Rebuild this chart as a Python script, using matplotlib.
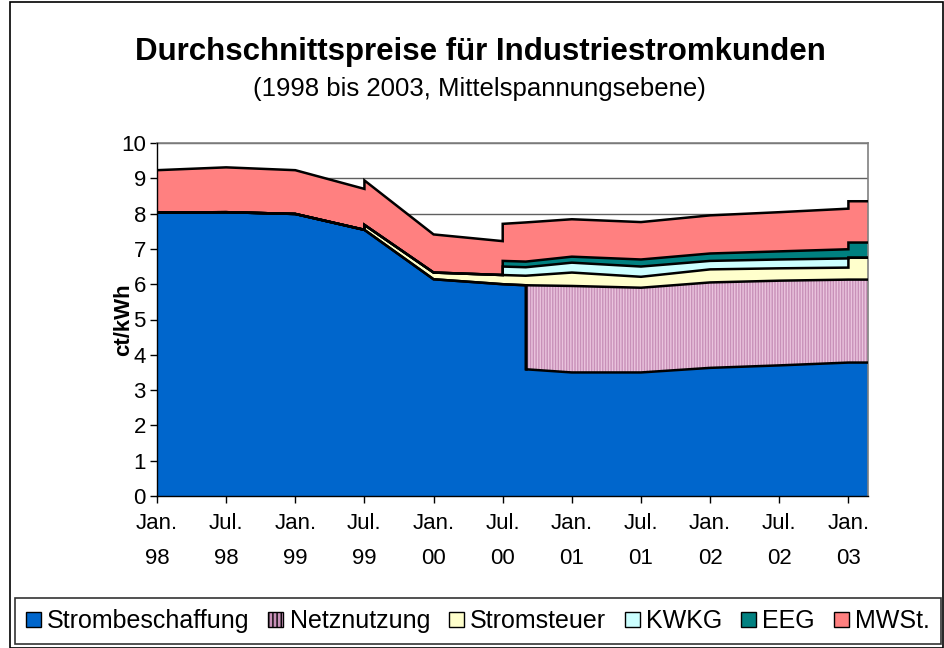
import numpy as np
import matplotlib
matplotlib.use('Agg')
import matplotlib.pyplot as plt
from matplotlib.patches import Rectangle, Patch

plt.rcParams['font.family'] = ['Liberation Sans', 'DejaVu Sans']

# --- Data (months since Jan. 1998, doubled x = step) ---
months = [0, 6, 12, 18, 18, 24, 30, 30, 32, 32, 36, 42, 48, 54, 60, 60, 62]
strombeschaffung = [8.03, 8.04, 7.99, 7.54, 7.54, 6.14, 6.00, 6.00, 5.97, 3.59,
                    3.50, 3.50, 3.63, 3.70, 3.78, 3.78, 3.78]
netznutzung = [0, 0, 0, 0, 0, 0, 0, 0, 0, 2.38,
               2.45, 2.40, 2.42, 2.40, 2.35, 2.35, 2.35]
stromsteuer = [0, 0, 0, 0, 0.14, 0.19, 0.26, 0.26, 0.27, 0.27,
               0.38, 0.31, 0.37, 0.35, 0.34, 0.62, 0.62]
kwkg = [0, 0, 0, 0, 0, 0, 0, 0.24, 0.24, 0.24,
        0.28, 0.29, 0.24, 0.25, 0.26, 0, 0]
eeg = [0, 0, 0, 0, 0, 0, 0, 0.16, 0.16, 0.16,
       0.17, 0.20, 0.21, 0.23, 0.26, 0.43, 0.43]
mwst = [1.20, 1.27, 1.24, 1.16, 1.26, 1.08, 0.96, 1.05, 1.11, 1.11,
        1.06, 1.06, 1.08, 1.11, 1.15, 1.17, 1.17]

series_names = ['Strombeschaffung', 'Netznutzung', 'Stromsteuer', 'KWKG', 'EEG', 'MWSt.']
colors = ['#0066CC', '#C890B8', '#FFFFCC', '#CCFFFF', '#008080', '#FF8080']

tick_months = [0, 6, 12, 18, 24, 30, 36, 42, 48, 54, 60]
tick_labels = ['Jan.\n98', 'Jul.\n98', 'Jan.\n99', 'Jul.\n99', 'Jan.\n00', 'Jul.\n00',
               'Jan.\n01', 'Jul.\n01', 'Jan.\n02', 'Jul.\n02', 'Jan.\n03']

# --- Figure ---
W, H = 945, 648
fig = plt.figure(figsize=(W / 100, H / 100), dpi=100)
ax = fig.add_axes([157 / W, 1 - 496 / H, 711 / W, 353 / H])

x = np.array(months, dtype=float)
layers = [strombeschaffung, netznutzung, stromsteuer, kwkg, eeg, mwst]
bottom = np.zeros_like(x)
for name, vals, col in zip(series_names, layers, colors):
    top = bottom + np.array(vals)
    if name == 'Netznutzung':
        ax.fill_between(x, bottom, top, facecolor=col, edgecolor='#EAC4DE',
                        hatch='||||||', linewidth=0, zorder=2)
    else:
        ax.fill_between(x, bottom, top, facecolor=col, edgecolor='none',
                        linewidth=0, zorder=2)
    bottom = top

# black outlines on every boundary
bottom = np.zeros_like(x)
for vals in layers:
    top = bottom + np.array(vals)
    ax.plot(x, top, color='black', lw=1.8, zorder=3, solid_joinstyle='miter')
    bottom = top
# vertical edge where Netznutzung starts
ax.plot([32, 32], [3.59, 5.97], color='black', lw=1.8, zorder=3)

ax.set_xlim(0, 61.7)
ax.set_ylim(0, 10)
ax.set_yticks(range(0, 11))
ax.yaxis.grid(True, color='#606060', lw=1, zorder=1)
ax.set_axisbelow(True)
ax.set_xticks(tick_months)
ax.set_xticklabels(tick_labels, linespacing=1.85)
ax.tick_params(axis='both', direction='out', length=5, width=1, labelsize=16, colors='black')
ax.tick_params(axis='x', pad=7.5)
ax.tick_params(axis='y', pad=3)
for s in ['left', 'bottom']:
    ax.spines[s].set_color('black')
    ax.spines[s].set_linewidth(1)
for s in ['top', 'right']:
    ax.spines[s].set_color('#808080')
    ax.spines[s].set_linewidth(1.2)
ax.spines['left'].set_zorder(4)
ax.spines['bottom'].set_zorder(4)

ax.set_ylabel('ct/kWh', fontsize=16, fontweight='bold')
ax.yaxis.set_label_coords((134 - 157) / 711, 0.5)

fig.text(480 / W, 1 - 52 / H, 'Durchschnittspreise für Industriestromkunden',
         ha='center', va='center', fontsize=22.5, fontweight='bold')
fig.text(479 / W, 1 - 89 / H, '(1998 bis 2003, Mittelspannungsebene)',
         ha='center', va='center', fontsize=18.5)

# legend
handles = []
for name, col in zip(series_names, colors):
    if name == 'Netznutzung':
        handles.append(Patch(facecolor=col, edgecolor='black', hatch='||||', lw=1))
    else:
        handles.append(Patch(facecolor=col, edgecolor='black', lw=1))
leg = fig.legend(handles, series_names, loc='center', ncol=6,
                 bbox_to_anchor=(478 / W, 1 - 621 / H), fontsize=18,
                 frameon=True, fancybox=False, edgecolor='black',
                 handlelength=0.6, handleheight=0.56, handletextpad=0.25,
                 columnspacing=0.75, borderpad=0.45, borderaxespad=0)
leg.get_frame().set_linewidth(1.2)

# chart border
fig.patches.append(Rectangle((10 / W, 0.5 / H), 933 / W, 646 / H, transform=fig.transFigure,
                             fill=False, edgecolor='black', lw=1.2))

fig.savefig('out.png', dpi=100)
